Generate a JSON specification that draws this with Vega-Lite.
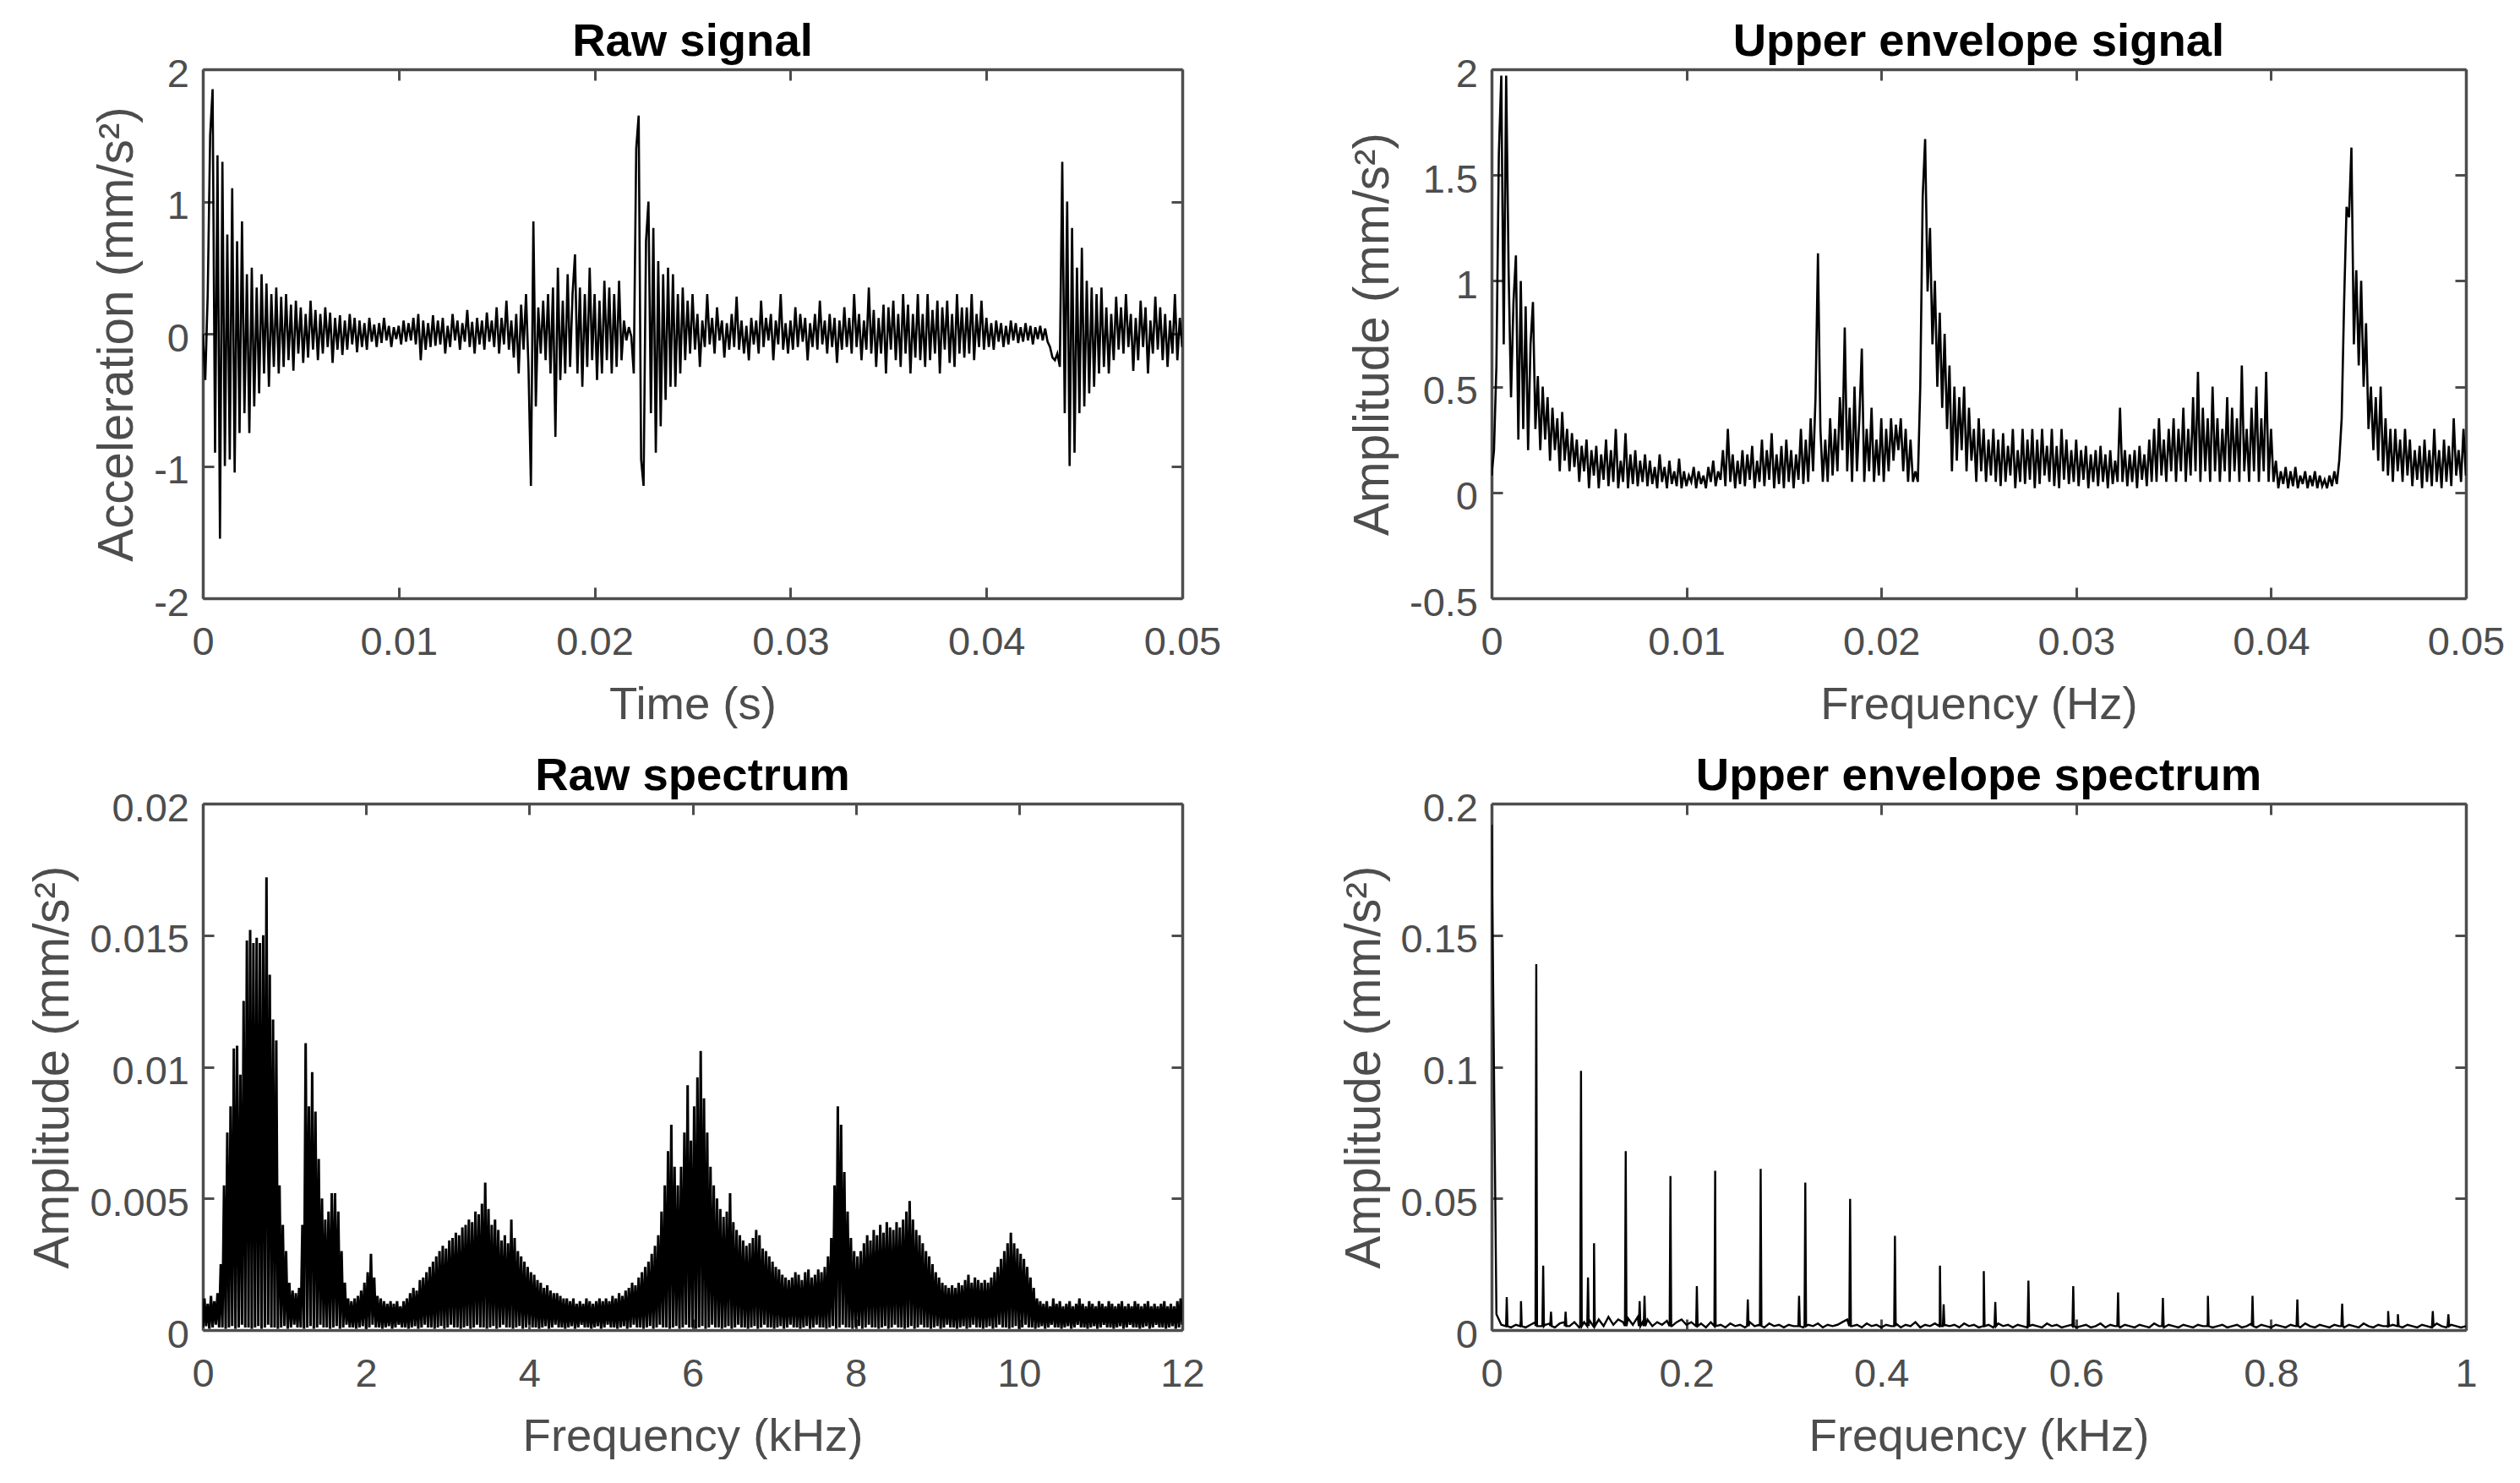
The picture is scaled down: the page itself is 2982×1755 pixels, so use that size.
{
"$schema":"https://vega.github.io/schema/vega-lite/v6.json",
"padding":{"left":33,"top":21,"right":0,"bottom":0},
"background":"white",
"config":{
"view":{"stroke":null},
"font":"Liberation Sans",
"axis":{"grid":false,"domainColor":"#4d4d4d","domainWidth":3.5,"tickColor":"#4d4d4d","tickWidth":3,"tickSize":-13,"labelFont":"Liberation Sans","labelFontSize":47,"labelColor":"#4d4d4d","labelFlush":false,"labelOverlap":false,"titleFont":"Liberation Sans","titleFontWeight":"normal","titleColor":"#4d4d4d","titleFontSize":54.5},
"axisBottom":{"labelPadding":42,"titlePadding":24},
"axisLeft":{"labelPadding":29.5,"labelOffset":6,"titlePadding":13,"titleFontSize":58.4},
"axisTop":{"labels":false},
"axisRight":{"labels":false},
"title":{"font":"Liberation Sans","fontSize":54.5,"fontWeight":"bold","color":"black","offset":-13,"frame":"group","anchor":"middle"},
"line":{"color":"black","strokeWidth":2.6}
},
"datasets":{
"raw":[
{"t":0,"v":0},{"t":0.000125,"v":-0.35},{"t":0.00025,"v":0.3},{"t":0.000375,"v":1.5},{"t":0.0005,"v":1.85},{"t":0.000625,"v":-0.9},{"t":0.00075,"v":1.35},{"t":0.000875,"v":-1.55},
{"t":0.001,"v":1.3},{"t":0.001125,"v":-1.0},{"t":0.00125,"v":0.75},{"t":0.001375,"v":-0.95},{"t":0.0015,"v":1.1},{"t":0.001625,"v":-1.05},{"t":0.00175,"v":0.7},{"t":0.001875,"v":-0.75},
{"t":0.002,"v":0.85},{"t":0.002125,"v":-0.6},{"t":0.00225,"v":0.45},{"t":0.002375,"v":-0.75},{"t":0.0025,"v":0.5},{"t":0.002625,"v":-0.55},{"t":0.00275,"v":0.35},{"t":0.002875,"v":-0.45},
{"t":0.003,"v":0.45},{"t":0.003125,"v":-0.3},{"t":0.00325,"v":0.38},{"t":0.003375,"v":-0.4},{"t":0.0035,"v":0.3},{"t":0.003625,"v":-0.25},{"t":0.00375,"v":0.35},{"t":0.003875,"v":-0.3},
{"t":0.004,"v":0.28},{"t":0.004125,"v":-0.25},{"t":0.00425,"v":0.3},{"t":0.004375,"v":-0.2},{"t":0.0045,"v":0.22},{"t":0.004625,"v":-0.28},{"t":0.00475,"v":0.25},{"t":0.004875,"v":-0.15},
{"t":0.005,"v":0.2},{"t":0.005125,"v":-0.22},{"t":0.00525,"v":0.15},{"t":0.005375,"v":-0.18},{"t":0.0055,"v":0.25},{"t":0.005625,"v":-0.12},{"t":0.00575,"v":0.18},{"t":0.005875,"v":-0.2},
{"t":0.006,"v":0.15},{"t":0.006125,"v":-0.15},{"t":0.00625,"v":0.2},{"t":0.006375,"v":-0.1},{"t":0.0065,"v":0.16},{"t":0.006625,"v":-0.22},{"t":0.00675,"v":0.12},{"t":0.006875,"v":-0.12},
{"t":0.007,"v":0.14},{"t":0.007125,"v":-0.16},{"t":0.00725,"v":0.1},{"t":0.007375,"v":-0.12},{"t":0.0075,"v":0.15},{"t":0.007625,"v":-0.08},{"t":0.00775,"v":0.12},{"t":0.007875,"v":-0.14},
{"t":0.008,"v":0.1},{"t":0.008125,"v":-0.1},{"t":0.00825,"v":0.08},{"t":0.008375,"v":-0.12},{"t":0.0085,"v":0.12},{"t":0.008625,"v":-0.06},{"t":0.00875,"v":0.07},{"t":0.008875,"v":-0.1},
{"t":0.009,"v":0.08},{"t":0.009125,"v":-0.07},{"t":0.00925,"v":0.12},{"t":0.009375,"v":-0.05},{"t":0.0095,"v":0.06},{"t":0.009625,"v":-0.1},{"t":0.00975,"v":0.05},{"t":0.009875,"v":-0.04},
{"t":0.01,"v":0.06},{"t":0.010125,"v":-0.08},{"t":0.01025,"v":0.1},{"t":0.010375,"v":-0.06},{"t":0.0105,"v":0.08},{"t":0.010625,"v":-0.05},{"t":0.01075,"v":0.12},{"t":0.010875,"v":-0.08},
{"t":0.011,"v":0.15},{"t":0.011125,"v":-0.2},{"t":0.01125,"v":0.1},{"t":0.011375,"v":-0.12},{"t":0.0115,"v":0.08},{"t":0.011625,"v":-0.1},{"t":0.01175,"v":0.14},{"t":0.011875,"v":-0.09},
{"t":0.012,"v":0.1},{"t":0.012125,"v":-0.08},{"t":0.01225,"v":0.12},{"t":0.012375,"v":-0.15},{"t":0.0125,"v":0.06},{"t":0.012625,"v":-0.1},{"t":0.01275,"v":0.15},{"t":0.012875,"v":-0.05},
{"t":0.013,"v":0.1},{"t":0.013125,"v":-0.12},{"t":0.01325,"v":0.08},{"t":0.013375,"v":-0.06},{"t":0.0135,"v":0.18},{"t":0.013625,"v":-0.1},{"t":0.01375,"v":0.09},{"t":0.013875,"v":-0.15},
{"t":0.014,"v":0.12},{"t":0.014125,"v":-0.08},{"t":0.01425,"v":0.1},{"t":0.014375,"v":-0.12},{"t":0.0145,"v":0.16},{"t":0.014625,"v":-0.06},{"t":0.01475,"v":0.1},{"t":0.014875,"v":-0.1},
{"t":0.015,"v":0.2},{"t":0.015125,"v":-0.15},{"t":0.01525,"v":0.12},{"t":0.015375,"v":-0.08},{"t":0.0155,"v":0.25},{"t":0.015625,"v":-0.12},{"t":0.01575,"v":0.1},{"t":0.015875,"v":-0.18},
{"t":0.016,"v":0.15},{"t":0.016125,"v":-0.3},{"t":0.01625,"v":0.22},{"t":0.016375,"v":-0.12},{"t":0.0165,"v":0.3},{"t":0.016625,"v":-0.25},{"t":0.01675,"v":-1.15},{"t":0.016875,"v":0.85},
{"t":0.017,"v":-0.55},{"t":0.017125,"v":0.2},{"t":0.01725,"v":-0.15},{"t":0.017375,"v":0.25},{"t":0.0175,"v":-0.2},{"t":0.017625,"v":0.3},{"t":0.01775,"v":-0.3},{"t":0.017875,"v":0.35},
{"t":0.018,"v":-0.78},{"t":0.018125,"v":0.5},{"t":0.01825,"v":-0.35},{"t":0.018375,"v":0.25},{"t":0.0185,"v":-0.3},{"t":0.018625,"v":0.45},{"t":0.01875,"v":-0.25},{"t":0.018875,"v":0.3},
{"t":0.019,"v":0.6},{"t":0.019125,"v":-0.3},{"t":0.01925,"v":0.35},{"t":0.019375,"v":-0.4},{"t":0.0195,"v":0.3},{"t":0.019625,"v":-0.25},{"t":0.01975,"v":0.5},{"t":0.019875,"v":-0.2},
{"t":0.02,"v":0.3},{"t":0.020125,"v":-0.35},{"t":0.02025,"v":0.25},{"t":0.020375,"v":-0.3},{"t":0.0205,"v":0.4},{"t":0.020625,"v":-0.2},{"t":0.02075,"v":0.35},{"t":0.020875,"v":-0.3},
{"t":0.021,"v":0.3},{"t":0.021125,"v":-0.25},{"t":0.02125,"v":0.4},{"t":0.021375,"v":-0.2},{"t":0.0215,"v":0.1},{"t":0.021625,"v":-0.05},{"t":0.02175,"v":0.05},{"t":0.021875,"v":-0.02},
{"t":0.022,"v":-0.3},{"t":0.022125,"v":1.4},{"t":0.02225,"v":1.65},{"t":0.022375,"v":-0.95},{"t":0.0225,"v":-1.15},{"t":0.022625,"v":0.7},{"t":0.02275,"v":1.0},{"t":0.022875,"v":-0.6},
{"t":0.023,"v":0.8},{"t":0.023125,"v":-0.9},{"t":0.02325,"v":0.55},{"t":0.023375,"v":-0.7},{"t":0.0235,"v":0.45},{"t":0.023625,"v":-0.5},{"t":0.02375,"v":0.5},{"t":0.023875,"v":-0.4},
{"t":0.024,"v":0.45},{"t":0.024125,"v":-0.4},{"t":0.02425,"v":0.3},{"t":0.024375,"v":-0.3},{"t":0.0245,"v":0.35},{"t":0.024625,"v":-0.2},{"t":0.02475,"v":0.25},{"t":0.024875,"v":-0.15},
{"t":0.025,"v":0.3},{"t":0.025125,"v":-0.12},{"t":0.02525,"v":0.15},{"t":0.025375,"v":-0.25},{"t":0.0255,"v":0.1},{"t":0.025625,"v":-0.1},{"t":0.02575,"v":0.3},{"t":0.025875,"v":-0.08},
{"t":0.026,"v":0.12},{"t":0.026125,"v":-0.15},{"t":0.02625,"v":0.2},{"t":0.026375,"v":-0.05},{"t":0.0265,"v":0.1},{"t":0.026625,"v":-0.18},{"t":0.02675,"v":0.08},{"t":0.026875,"v":-0.12},
{"t":0.027,"v":0.15},{"t":0.027125,"v":-0.1},{"t":0.02725,"v":0.28},{"t":0.027375,"v":-0.12},{"t":0.0275,"v":0.1},{"t":0.027625,"v":-0.15},{"t":0.02775,"v":0.06},{"t":0.027875,"v":-0.2},
{"t":0.028,"v":0.12},{"t":0.028125,"v":-0.08},{"t":0.02825,"v":0.1},{"t":0.028375,"v":-0.15},{"t":0.0285,"v":0.25},{"t":0.028625,"v":-0.1},{"t":0.02875,"v":0.12},{"t":0.028875,"v":-0.05},
{"t":0.029,"v":0.15},{"t":0.029125,"v":-0.2},{"t":0.02925,"v":0.1},{"t":0.029375,"v":-0.08},{"t":0.0295,"v":0.3},{"t":0.029625,"v":-0.12},{"t":0.02975,"v":0.08},{"t":0.029875,"v":-0.15},
{"t":0.03,"v":0.1},{"t":0.030125,"v":-0.12},{"t":0.03025,"v":0.2},{"t":0.030375,"v":-0.1},{"t":0.0305,"v":0.15},{"t":0.030625,"v":-0.06},{"t":0.03075,"v":0.12},{"t":0.030875,"v":-0.2},
{"t":0.031,"v":0.08},{"t":0.031125,"v":-0.1},{"t":0.03125,"v":0.15},{"t":0.031375,"v":-0.12},{"t":0.0315,"v":0.25},{"t":0.031625,"v":-0.08},{"t":0.03175,"v":0.1},{"t":0.031875,"v":-0.15},
{"t":0.032,"v":0.15},{"t":0.032125,"v":-0.1},{"t":0.03225,"v":0.12},{"t":0.032375,"v":-0.22},{"t":0.0325,"v":0.1},{"t":0.032625,"v":-0.12},{"t":0.03275,"v":0.2},{"t":0.032875,"v":-0.1},
{"t":0.033,"v":0.12},{"t":0.033125,"v":-0.15},{"t":0.03325,"v":0.3},{"t":0.033375,"v":-0.1},{"t":0.0335,"v":0.15},{"t":0.033625,"v":-0.2},{"t":0.03375,"v":0.1},{"t":0.033875,"v":-0.12},
{"t":0.034,"v":0.35},{"t":0.034125,"v":-0.15},{"t":0.03425,"v":0.18},{"t":0.034375,"v":-0.25},{"t":0.0345,"v":0.12},{"t":0.034625,"v":-0.15},{"t":0.03475,"v":0.22},{"t":0.034875,"v":-0.3},
{"t":0.035,"v":0.2},{"t":0.035125,"v":-0.12},{"t":0.03525,"v":0.25},{"t":0.035375,"v":-0.2},{"t":0.0355,"v":0.15},{"t":0.035625,"v":-0.25},{"t":0.03575,"v":0.3},{"t":0.035875,"v":-0.15},
{"t":0.036,"v":0.22},{"t":0.036125,"v":-0.3},{"t":0.03625,"v":0.15},{"t":0.036375,"v":-0.18},{"t":0.0365,"v":0.3},{"t":0.036625,"v":-0.2},{"t":0.03675,"v":0.15},{"t":0.036875,"v":-0.25},
{"t":0.037,"v":0.3},{"t":0.037125,"v":-0.2},{"t":0.03725,"v":0.18},{"t":0.037375,"v":-0.15},{"t":0.0375,"v":0.25},{"t":0.037625,"v":-0.3},{"t":0.03775,"v":0.2},{"t":0.037875,"v":-0.12},
{"t":0.038,"v":0.25},{"t":0.038125,"v":-0.22},{"t":0.03825,"v":0.15},{"t":0.038375,"v":-0.25},{"t":0.0385,"v":0.3},{"t":0.038625,"v":-0.15},{"t":0.03875,"v":0.2},{"t":0.038875,"v":-0.18},
{"t":0.039,"v":0.2},{"t":0.039125,"v":-0.15},{"t":0.03925,"v":0.3},{"t":0.039375,"v":-0.2},{"t":0.0395,"v":0.15},{"t":0.039625,"v":-0.1},{"t":0.03975,"v":0.25},{"t":0.039875,"v":-0.12},
{"t":0.04,"v":0.12},{"t":0.040125,"v":-0.1},{"t":0.04025,"v":0.08},{"t":0.040375,"v":-0.12},{"t":0.0405,"v":0.1},{"t":0.040625,"v":-0.06},{"t":0.04075,"v":0.08},{"t":0.040875,"v":-0.1},
{"t":0.041,"v":0.06},{"t":0.041125,"v":-0.08},{"t":0.04125,"v":0.1},{"t":0.041375,"v":-0.05},{"t":0.0415,"v":0.08},{"t":0.041625,"v":-0.07},{"t":0.04175,"v":0.05},{"t":0.041875,"v":-0.06},
{"t":0.042,"v":0.08},{"t":0.042125,"v":-0.05},{"t":0.04225,"v":0.06},{"t":0.042375,"v":-0.08},{"t":0.0425,"v":0.05},{"t":0.042625,"v":-0.04},{"t":0.04275,"v":0.06},{"t":0.042875,"v":-0.05},
{"t":0.043,"v":0.04},{"t":0.043125,"v":-0.06},{"t":0.04325,"v":-0.1},{"t":0.043375,"v":-0.18},{"t":0.0435,"v":-0.2},{"t":0.043625,"v":-0.15},{"t":0.04375,"v":-0.25},{"t":0.043875,"v":1.3},
{"t":0.044,"v":-0.6},{"t":0.044125,"v":1.0},{"t":0.04425,"v":-1.0},{"t":0.044375,"v":0.8},{"t":0.0445,"v":-0.9},{"t":0.044625,"v":0.5},{"t":0.04475,"v":-0.6},{"t":0.044875,"v":0.65},
{"t":0.045,"v":-0.55},{"t":0.045125,"v":0.4},{"t":0.04525,"v":-0.45},{"t":0.045375,"v":0.35},{"t":0.0455,"v":-0.4},{"t":0.045625,"v":0.3},{"t":0.04575,"v":-0.3},{"t":0.045875,"v":0.35},
{"t":0.046,"v":-0.25},{"t":0.046125,"v":0.2},{"t":0.04625,"v":-0.3},{"t":0.046375,"v":0.15},{"t":0.0465,"v":-0.2},{"t":0.046625,"v":0.28},{"t":0.04675,"v":-0.12},{"t":0.046875,"v":0.2},
{"t":0.047,"v":-0.15},{"t":0.047125,"v":0.3},{"t":0.04725,"v":-0.1},{"t":0.047375,"v":0.15},{"t":0.0475,"v":-0.28},{"t":0.047625,"v":0.12},{"t":0.04775,"v":-0.2},{"t":0.047875,"v":0.25},
{"t":0.048,"v":-0.1},{"t":0.048125,"v":0.2},{"t":0.04825,"v":-0.3},{"t":0.048375,"v":0.1},{"t":0.0485,"v":-0.15},{"t":0.048625,"v":0.28},{"t":0.04875,"v":-0.12},{"t":0.048875,"v":0.2},
{"t":0.049,"v":-0.2},{"t":0.049125,"v":0.15},{"t":0.04925,"v":-0.25},{"t":0.049375,"v":0.1},{"t":0.0495,"v":-0.15},{"t":0.049625,"v":0.3},{"t":0.04975,"v":-0.2},{"t":0.049875,"v":0.12},
{"t":0.05,"v":-0.1}
],
"env":[
{"t":0,"v":0.08},{"t":0.000125,"v":0.2},{"t":0.00025,"v":0.6},{"t":0.000375,"v":1.6},{"t":0.0005,"v":1.97},{"t":0.000625,"v":0.7},{"t":0.00075,"v":1.97},{"t":0.000875,"v":1.05},
{"t":0.001,"v":0.45},{"t":0.001125,"v":0.9},{"t":0.00125,"v":1.12},{"t":0.001375,"v":0.25},{"t":0.0015,"v":1.0},{"t":0.001625,"v":0.3},{"t":0.00175,"v":0.88},{"t":0.001875,"v":0.2},
{"t":0.002,"v":0.7},{"t":0.002125,"v":0.9},{"t":0.00225,"v":0.3},{"t":0.002375,"v":0.55},{"t":0.0025,"v":0.2},{"t":0.002625,"v":0.5},{"t":0.00275,"v":0.25},{"t":0.002875,"v":0.45},
{"t":0.003,"v":0.15},{"t":0.003125,"v":0.4},{"t":0.00325,"v":0.2},{"t":0.003375,"v":0.35},{"t":0.0035,"v":0.1},{"t":0.003625,"v":0.38},{"t":0.00375,"v":0.15},{"t":0.003875,"v":0.3},
{"t":0.004,"v":0.1},{"t":0.004125,"v":0.28},{"t":0.00425,"v":0.12},{"t":0.004375,"v":0.25},{"t":0.0045,"v":0.05},{"t":0.004625,"v":0.22},{"t":0.00475,"v":0.1},{"t":0.004875,"v":0.25},
{"t":0.005,"v":0.02},{"t":0.005125,"v":0.2},{"t":0.00525,"v":0.08},{"t":0.005375,"v":0.22},{"t":0.0055,"v":0.02},{"t":0.005625,"v":0.18},{"t":0.00575,"v":0.06},{"t":0.005875,"v":0.25},
{"t":0.006,"v":0.03},{"t":0.006125,"v":0.2},{"t":0.00625,"v":0.05},{"t":0.006375,"v":0.3},{"t":0.0065,"v":0.02},{"t":0.006625,"v":0.15},{"t":0.00675,"v":0.05},{"t":0.006875,"v":0.28},
{"t":0.007,"v":0.02},{"t":0.007125,"v":0.18},{"t":0.00725,"v":0.04},{"t":0.007375,"v":0.2},{"t":0.0075,"v":0.03},{"t":0.007625,"v":0.15},{"t":0.00775,"v":0.05},{"t":0.007875,"v":0.18},
{"t":0.008,"v":0.03},{"t":0.008125,"v":0.15},{"t":0.00825,"v":0.04},{"t":0.008375,"v":0.12},{"t":0.0085,"v":0.02},{"t":0.008625,"v":0.18},{"t":0.00875,"v":0.05},{"t":0.008875,"v":0.12},
{"t":0.009,"v":0.02},{"t":0.009125,"v":0.15},{"t":0.00925,"v":0.04},{"t":0.009375,"v":0.1},{"t":0.0095,"v":0.03},{"t":0.009625,"v":0.16},{"t":0.00975,"v":0.02},{"t":0.009875,"v":0.1},
{"t":0.01,"v":0.03},{"t":0.010125,"v":0.08},{"t":0.01025,"v":0.05},{"t":0.010375,"v":0.12},{"t":0.0105,"v":0.02},{"t":0.010625,"v":0.1},{"t":0.01075,"v":0.04},{"t":0.010875,"v":0.08},
{"t":0.011,"v":0.02},{"t":0.011125,"v":0.12},{"t":0.01125,"v":0.05},{"t":0.011375,"v":0.15},{"t":0.0115,"v":0.03},{"t":0.011625,"v":0.1},{"t":0.01175,"v":0.06},{"t":0.011875,"v":0.2},
{"t":0.012,"v":0.03},{"t":0.012125,"v":0.3},{"t":0.01225,"v":0.05},{"t":0.012375,"v":0.18},{"t":0.0125,"v":0.02},{"t":0.012625,"v":0.15},{"t":0.01275,"v":0.04},{"t":0.012875,"v":0.2},
{"t":0.013,"v":0.03},{"t":0.013125,"v":0.18},{"t":0.01325,"v":0.06},{"t":0.013375,"v":0.22},{"t":0.0135,"v":0.02},{"t":0.013625,"v":0.15},{"t":0.01375,"v":0.05},{"t":0.013875,"v":0.25},
{"t":0.014,"v":0.03},{"t":0.014125,"v":0.2},{"t":0.01425,"v":0.06},{"t":0.014375,"v":0.28},{"t":0.0145,"v":0.02},{"t":0.014625,"v":0.18},{"t":0.01475,"v":0.04},{"t":0.014875,"v":0.22},
{"t":0.015,"v":0.02},{"t":0.015125,"v":0.25},{"t":0.01525,"v":0.05},{"t":0.015375,"v":0.2},{"t":0.0155,"v":0.02},{"t":0.015625,"v":0.18},{"t":0.01575,"v":0.06},{"t":0.015875,"v":0.3},
{"t":0.016,"v":0.04},{"t":0.016125,"v":0.25},{"t":0.01625,"v":0.05},{"t":0.016375,"v":0.35},{"t":0.0165,"v":0.1},{"t":0.016625,"v":0.45},{"t":0.01675,"v":1.13},{"t":0.016875,"v":0.3},
{"t":0.017,"v":0.05},{"t":0.017125,"v":0.25},{"t":0.01725,"v":0.05},{"t":0.017375,"v":0.35},{"t":0.0175,"v":0.08},{"t":0.017625,"v":0.3},{"t":0.01775,"v":0.1},{"t":0.017875,"v":0.45},
{"t":0.018,"v":0.2},{"t":0.018125,"v":0.78},{"t":0.01825,"v":0.1},{"t":0.018375,"v":0.4},{"t":0.0185,"v":0.05},{"t":0.018625,"v":0.5},{"t":0.01875,"v":0.1},{"t":0.018875,"v":0.35},
{"t":0.019,"v":0.68},{"t":0.019125,"v":0.05},{"t":0.01925,"v":0.3},{"t":0.019375,"v":0.1},{"t":0.0195,"v":0.4},{"t":0.019625,"v":0.05},{"t":0.01975,"v":0.25},{"t":0.019875,"v":0.08},
{"t":0.02,"v":0.35},{"t":0.020125,"v":0.05},{"t":0.02025,"v":0.3},{"t":0.020375,"v":0.1},{"t":0.0205,"v":0.35},{"t":0.020625,"v":0.15},{"t":0.02075,"v":0.32},{"t":0.020875,"v":0.2},
{"t":0.021,"v":0.35},{"t":0.021125,"v":0.1},{"t":0.02125,"v":0.3},{"t":0.021375,"v":0.05},{"t":0.0215,"v":0.25},{"t":0.021625,"v":0.05},{"t":0.02175,"v":0.1},{"t":0.021875,"v":0.05},
{"t":0.022,"v":0.5},{"t":0.022125,"v":1.4},{"t":0.02225,"v":1.67},{"t":0.022375,"v":0.95},{"t":0.0225,"v":1.25},{"t":0.022625,"v":0.7},{"t":0.02275,"v":1.0},{"t":0.022875,"v":0.5},
{"t":0.023,"v":0.85},{"t":0.023125,"v":0.4},{"t":0.02325,"v":0.75},{"t":0.023375,"v":0.3},{"t":0.0235,"v":0.6},{"t":0.023625,"v":0.1},{"t":0.02375,"v":0.5},{"t":0.023875,"v":0.15},
{"t":0.024,"v":0.45},{"t":0.024125,"v":0.2},{"t":0.02425,"v":0.5},{"t":0.024375,"v":0.1},{"t":0.0245,"v":0.4},{"t":0.024625,"v":0.15},{"t":0.02475,"v":0.3},{"t":0.024875,"v":0.05},
{"t":0.025,"v":0.35},{"t":0.025125,"v":0.1},{"t":0.02525,"v":0.3},{"t":0.025375,"v":0.05},{"t":0.0255,"v":0.25},{"t":0.025625,"v":0.08},{"t":0.02575,"v":0.3},{"t":0.025875,"v":0.05},
{"t":0.026,"v":0.25},{"t":0.026125,"v":0.03},{"t":0.02625,"v":0.28},{"t":0.026375,"v":0.05},{"t":0.0265,"v":0.22},{"t":0.026625,"v":0.08},{"t":0.02675,"v":0.3},{"t":0.026875,"v":0.02},
{"t":0.027,"v":0.2},{"t":0.027125,"v":0.05},{"t":0.02725,"v":0.3},{"t":0.027375,"v":0.04},{"t":0.0275,"v":0.25},{"t":0.027625,"v":0.06},{"t":0.02775,"v":0.3},{"t":0.027875,"v":0.02},
{"t":0.028,"v":0.25},{"t":0.028125,"v":0.04},{"t":0.02825,"v":0.3},{"t":0.028375,"v":0.08},{"t":0.0285,"v":0.22},{"t":0.028625,"v":0.05},{"t":0.02875,"v":0.3},{"t":0.028875,"v":0.03},
{"t":0.029,"v":0.22},{"t":0.029125,"v":0.02},{"t":0.02925,"v":0.3},{"t":0.029375,"v":0.06},{"t":0.0295,"v":0.25},{"t":0.029625,"v":0.04},{"t":0.02975,"v":0.2},{"t":0.029875,"v":0.05},
{"t":0.03,"v":0.25},{"t":0.030125,"v":0.03},{"t":0.03025,"v":0.2},{"t":0.030375,"v":0.06},{"t":0.0305,"v":0.22},{"t":0.030625,"v":0.02},{"t":0.03075,"v":0.18},{"t":0.030875,"v":0.05},
{"t":0.031,"v":0.2},{"t":0.031125,"v":0.03},{"t":0.03125,"v":0.22},{"t":0.031375,"v":0.05},{"t":0.0315,"v":0.18},{"t":0.031625,"v":0.02},{"t":0.03175,"v":0.2},{"t":0.031875,"v":0.04},
{"t":0.032,"v":0.15},{"t":0.032125,"v":0.05},{"t":0.03225,"v":0.4},{"t":0.032375,"v":0.05},{"t":0.0325,"v":0.2},{"t":0.032625,"v":0.03},{"t":0.03275,"v":0.18},{"t":0.032875,"v":0.05},
{"t":0.033,"v":0.2},{"t":0.033125,"v":0.02},{"t":0.03325,"v":0.22},{"t":0.033375,"v":0.06},{"t":0.0335,"v":0.18},{"t":0.033625,"v":0.03},{"t":0.03375,"v":0.25},{"t":0.033875,"v":0.05},
{"t":0.034,"v":0.3},{"t":0.034125,"v":0.05},{"t":0.03425,"v":0.35},{"t":0.034375,"v":0.08},{"t":0.0345,"v":0.25},{"t":0.034625,"v":0.05},{"t":0.03475,"v":0.3},{"t":0.034875,"v":0.1},
{"t":0.035,"v":0.35},{"t":0.035125,"v":0.05},{"t":0.03525,"v":0.3},{"t":0.035375,"v":0.1},{"t":0.0355,"v":0.4},{"t":0.035625,"v":0.05},{"t":0.03575,"v":0.3},{"t":0.035875,"v":0.08},
{"t":0.036,"v":0.45},{"t":0.036125,"v":0.1},{"t":0.03625,"v":0.57},{"t":0.036375,"v":0.05},{"t":0.0365,"v":0.4},{"t":0.036625,"v":0.1},{"t":0.03675,"v":0.35},{"t":0.036875,"v":0.05},
{"t":0.037,"v":0.5},{"t":0.037125,"v":0.1},{"t":0.03725,"v":0.35},{"t":0.037375,"v":0.05},{"t":0.0375,"v":0.3},{"t":0.037625,"v":0.1},{"t":0.03775,"v":0.45},{"t":0.037875,"v":0.05},
{"t":0.038,"v":0.4},{"t":0.038125,"v":0.1},{"t":0.03825,"v":0.35},{"t":0.038375,"v":0.05},{"t":0.0385,"v":0.6},{"t":0.038625,"v":0.1},{"t":0.03875,"v":0.3},{"t":0.038875,"v":0.05},
{"t":0.039,"v":0.4},{"t":0.039125,"v":0.1},{"t":0.03925,"v":0.5},{"t":0.039375,"v":0.05},{"t":0.0395,"v":0.35},{"t":0.039625,"v":0.1},{"t":0.03975,"v":0.57},{"t":0.039875,"v":0.05},
{"t":0.04,"v":0.3},{"t":0.040125,"v":0.05},{"t":0.04025,"v":0.15},{"t":0.040375,"v":0.02},{"t":0.0405,"v":0.1},{"t":0.040625,"v":0.04},{"t":0.04075,"v":0.12},{"t":0.040875,"v":0.02},
{"t":0.041,"v":0.1},{"t":0.041125,"v":0.03},{"t":0.04125,"v":0.12},{"t":0.041375,"v":0.02},{"t":0.0415,"v":0.08},{"t":0.041625,"v":0.04},{"t":0.04175,"v":0.1},{"t":0.041875,"v":0.02},
{"t":0.042,"v":0.08},{"t":0.042125,"v":0.03},{"t":0.04225,"v":0.1},{"t":0.042375,"v":0.02},{"t":0.0425,"v":0.08},{"t":0.042625,"v":0.03},{"t":0.04275,"v":0.06},{"t":0.042875,"v":0.02},
{"t":0.043,"v":0.08},{"t":0.043125,"v":0.03},{"t":0.04325,"v":0.1},{"t":0.043375,"v":0.04},{"t":0.0435,"v":0.15},{"t":0.043625,"v":0.35},{"t":0.04375,"v":0.9},{"t":0.043875,"v":1.35},
{"t":0.044,"v":1.3},{"t":0.044125,"v":1.63},{"t":0.04425,"v":0.7},{"t":0.044375,"v":1.05},{"t":0.0445,"v":0.6},{"t":0.044625,"v":1.0},{"t":0.04475,"v":0.5},{"t":0.044875,"v":0.8},
{"t":0.045,"v":0.3},{"t":0.045125,"v":0.5},{"t":0.04525,"v":0.2},{"t":0.045375,"v":0.45},{"t":0.0455,"v":0.15},{"t":0.045625,"v":0.5},{"t":0.04575,"v":0.1},{"t":0.045875,"v":0.35},
{"t":0.046,"v":0.08},{"t":0.046125,"v":0.3},{"t":0.04625,"v":0.05},{"t":0.046375,"v":0.3},{"t":0.0465,"v":0.1},{"t":0.046625,"v":0.25},{"t":0.04675,"v":0.05},{"t":0.046875,"v":0.3},
{"t":0.047,"v":0.08},{"t":0.047125,"v":0.25},{"t":0.04725,"v":0.03},{"t":0.047375,"v":0.2},{"t":0.0475,"v":0.06},{"t":0.047625,"v":0.22},{"t":0.04775,"v":0.02},{"t":0.047875,"v":0.25},
{"t":0.048,"v":0.05},{"t":0.048125,"v":0.2},{"t":0.04825,"v":0.03},{"t":0.048375,"v":0.3},{"t":0.0485,"v":0.05},{"t":0.048625,"v":0.2},{"t":0.04875,"v":0.02},{"t":0.048875,"v":0.25},
{"t":0.049,"v":0.05},{"t":0.049125,"v":0.22},{"t":0.04925,"v":0.03},{"t":0.049375,"v":0.35},{"t":0.0495,"v":0.08},{"t":0.049625,"v":0.2},{"t":0.04975,"v":0.05},{"t":0.049875,"v":0.3},
{"t":0.05,"v":0.08}
],
"spec":[
{"f":0,"a":0.0001},{"f":0.02,"a":0.0012},{"f":0.04,"a":0.00015},{"f":0.06,"a":0.001},{"f":0.08,"a":0.00005},{"f":0.1,"a":0.0013},{"f":0.12,"a":0.0001},{"f":0.14,"a":0.0011},{"f":0.16,"a":0.0002},{"f":0.18,"a":0.0014},
{"f":0.2,"a":0.0001},{"f":0.22,"a":0.0025},{"f":0.24,"a":0.0001},{"f":0.26,"a":0.0055},{"f":0.28,"a":0.00005},{"f":0.3,"a":0.0075},{"f":0.32,"a":0.0001},{"f":0.34,"a":0.0085},{"f":0.36,"a":0.00015},{"f":0.38,"a":0.0107},
{"f":0.4,"a":0.00005},{"f":0.42,"a":0.0108},{"f":0.44,"a":0.0001},{"f":0.46,"a":0.0097},{"f":0.48,"a":0.0002},{"f":0.5,"a":0.0125},{"f":0.52,"a":0.0001},{"f":0.54,"a":0.0148},{"f":0.56,"a":0.0001},{"f":0.58,"a":0.0152},
{"f":0.6,"a":0.00005},{"f":0.62,"a":0.0147},{"f":0.64,"a":0.0001},{"f":0.66,"a":0.0149},{"f":0.68,"a":0.00015},{"f":0.7,"a":0.0147},{"f":0.72,"a":0.00005},{"f":0.74,"a":0.015},{"f":0.76,"a":0.0001},{"f":0.78,"a":0.0172},
{"f":0.8,"a":0.0002},{"f":0.82,"a":0.0135},{"f":0.84,"a":0.0001},{"f":0.86,"a":0.0118},{"f":0.88,"a":0.0001},{"f":0.9,"a":0.011},{"f":0.92,"a":0.00005},{"f":0.94,"a":0.0055},{"f":0.96,"a":0.0001},{"f":0.98,"a":0.004},
{"f":1.0,"a":0.00015},{"f":1.02,"a":0.003},{"f":1.04,"a":0.00005},{"f":1.06,"a":0.0018},{"f":1.08,"a":0.0001},{"f":1.1,"a":0.0015},{"f":1.12,"a":0.0002},{"f":1.14,"a":0.0014},{"f":1.16,"a":0.0001},{"f":1.18,"a":0.0016},
{"f":1.2,"a":0.0001},{"f":1.22,"a":0.004},{"f":1.24,"a":0.00005},{"f":1.26,"a":0.0109},{"f":1.28,"a":0.0001},{"f":1.3,"a":0.0085},{"f":1.32,"a":0.00015},{"f":1.34,"a":0.0098},{"f":1.36,"a":0.00005},{"f":1.38,"a":0.0083},
{"f":1.4,"a":0.0001},{"f":1.42,"a":0.0065},{"f":1.44,"a":0.0002},{"f":1.46,"a":0.005},{"f":1.48,"a":0.0001},{"f":1.5,"a":0.0042},{"f":1.52,"a":0.0001},{"f":1.54,"a":0.0045},{"f":1.56,"a":0.00005},{"f":1.58,"a":0.0052},
{"f":1.6,"a":0.0001},{"f":1.62,"a":0.0052},{"f":1.64,"a":0.00015},{"f":1.66,"a":0.0045},{"f":1.68,"a":0.00005},{"f":1.7,"a":0.003},{"f":1.72,"a":0.0001},{"f":1.74,"a":0.0018},{"f":1.76,"a":0.0002},{"f":1.78,"a":0.0012},
{"f":1.8,"a":0.0001},{"f":1.82,"a":0.0011},{"f":1.84,"a":0.0001},{"f":1.86,"a":0.0012},{"f":1.88,"a":0.00005},{"f":1.9,"a":0.0013},{"f":1.92,"a":0.0001},{"f":1.94,"a":0.0015},{"f":1.96,"a":0.00015},{"f":1.98,"a":0.0018},
{"f":2.0,"a":0.00005},{"f":2.02,"a":0.0022},{"f":2.04,"a":0.0001},{"f":2.06,"a":0.0029},{"f":2.08,"a":0.0002},{"f":2.1,"a":0.002},{"f":2.12,"a":0.0001},{"f":2.14,"a":0.0013},{"f":2.16,"a":0.0001},{"f":2.18,"a":0.0012},
{"f":2.2,"a":0.00005},{"f":2.22,"a":0.0011},{"f":2.24,"a":0.0001},{"f":2.26,"a":0.001},{"f":2.28,"a":0.00015},{"f":2.3,"a":0.0011},{"f":2.32,"a":0.00005},{"f":2.34,"a":0.001},{"f":2.36,"a":0.0001},{"f":2.38,"a":0.0011},
{"f":2.4,"a":0.0002},{"f":2.42,"a":0.0009},{"f":2.44,"a":0.0001},{"f":2.46,"a":0.0011},{"f":2.48,"a":0.0001},{"f":2.5,"a":0.0012},{"f":2.52,"a":0.00005},{"f":2.54,"a":0.0014},{"f":2.56,"a":0.0001},{"f":2.58,"a":0.0016},
{"f":2.6,"a":0.00015},{"f":2.62,"a":0.0015},{"f":2.64,"a":0.00005},{"f":2.66,"a":0.0019},{"f":2.68,"a":0.0001},{"f":2.7,"a":0.002},{"f":2.72,"a":0.0002},{"f":2.74,"a":0.0022},{"f":2.76,"a":0.0001},{"f":2.78,"a":0.0024},
{"f":2.8,"a":0.0001},{"f":2.82,"a":0.0026},{"f":2.84,"a":0.00005},{"f":2.86,"a":0.0028},{"f":2.88,"a":0.0001},{"f":2.9,"a":0.003},{"f":2.92,"a":0.00015},{"f":2.94,"a":0.0032},{"f":2.96,"a":0.00005},{"f":2.98,"a":0.0031},
{"f":3.0,"a":0.0001},{"f":3.02,"a":0.0034},{"f":3.04,"a":0.0002},{"f":3.06,"a":0.0035},{"f":3.08,"a":0.0001},{"f":3.1,"a":0.0037},{"f":3.12,"a":0.0001},{"f":3.14,"a":0.0036},{"f":3.16,"a":0.00005},{"f":3.18,"a":0.0039},
{"f":3.2,"a":0.0001},{"f":3.22,"a":0.004},{"f":3.24,"a":0.00015},{"f":3.26,"a":0.0042},{"f":3.28,"a":0.00005},{"f":3.3,"a":0.0041},{"f":3.32,"a":0.0001},{"f":3.34,"a":0.0045},{"f":3.36,"a":0.0002},{"f":3.38,"a":0.0044},
{"f":3.4,"a":0.0001},{"f":3.42,"a":0.0048},{"f":3.44,"a":0.0001},{"f":3.46,"a":0.0056},{"f":3.48,"a":0.00005},{"f":3.5,"a":0.0046},{"f":3.52,"a":0.0001},{"f":3.54,"a":0.004},{"f":3.56,"a":0.00015},{"f":3.58,"a":0.0042},
{"f":3.6,"a":0.00005},{"f":3.62,"a":0.0038},{"f":3.64,"a":0.0001},{"f":3.66,"a":0.0034},{"f":3.68,"a":0.0002},{"f":3.7,"a":0.0036},{"f":3.72,"a":0.0001},{"f":3.74,"a":0.0033},{"f":3.76,"a":0.0001},{"f":3.78,"a":0.0042},
{"f":3.8,"a":0.00005},{"f":3.82,"a":0.0035},{"f":3.84,"a":0.0001},{"f":3.86,"a":0.003},{"f":3.88,"a":0.00015},{"f":3.9,"a":0.0028},{"f":3.92,"a":0.00005},{"f":3.94,"a":0.0026},{"f":3.96,"a":0.0001},{"f":3.98,"a":0.0024},
{"f":4.0,"a":0.0002},{"f":4.02,"a":0.0022},{"f":4.04,"a":0.0001},{"f":4.06,"a":0.0021},{"f":4.08,"a":0.0001},{"f":4.1,"a":0.0019},{"f":4.12,"a":0.00005},{"f":4.14,"a":0.0018},{"f":4.16,"a":0.0001},{"f":4.18,"a":0.0016},
{"f":4.2,"a":0.00015},{"f":4.22,"a":0.0017},{"f":4.24,"a":0.00005},{"f":4.26,"a":0.0015},{"f":4.28,"a":0.0001},{"f":4.3,"a":0.0014},{"f":4.32,"a":0.0002},{"f":4.34,"a":0.0014},{"f":4.36,"a":0.0001},{"f":4.38,"a":0.0013},
{"f":4.4,"a":0.0001},{"f":4.42,"a":0.0012},{"f":4.44,"a":0.00005},{"f":4.46,"a":0.0012},{"f":4.48,"a":0.0001},{"f":4.5,"a":0.0011},{"f":4.52,"a":0.00015},{"f":4.54,"a":0.0012},{"f":4.56,"a":0.00005},{"f":4.58,"a":0.001},
{"f":4.6,"a":0.0001},{"f":4.62,"a":0.0011},{"f":4.64,"a":0.0002},{"f":4.66,"a":0.001},{"f":4.68,"a":0.0001},{"f":4.7,"a":0.0012},{"f":4.72,"a":0.0001},{"f":4.74,"a":0.0011},{"f":4.76,"a":0.00005},{"f":4.78,"a":0.001},
{"f":4.8,"a":0.0001},{"f":4.82,"a":0.0011},{"f":4.84,"a":0.00015},{"f":4.86,"a":0.0012},{"f":4.88,"a":0.00005},{"f":4.9,"a":0.0011},{"f":4.92,"a":0.0001},{"f":4.94,"a":0.0012},{"f":4.96,"a":0.0002},{"f":4.98,"a":0.0011},
{"f":5.0,"a":0.0001},{"f":5.02,"a":0.0013},{"f":5.04,"a":0.0001},{"f":5.06,"a":0.0012},{"f":5.08,"a":0.00005},{"f":5.1,"a":0.0014},{"f":5.12,"a":0.0001},{"f":5.14,"a":0.0013},{"f":5.16,"a":0.00015},{"f":5.18,"a":0.0015},
{"f":5.2,"a":0.00005},{"f":5.22,"a":0.0016},{"f":5.24,"a":0.0001},{"f":5.26,"a":0.0018},{"f":5.28,"a":0.0002},{"f":5.3,"a":0.0017},{"f":5.32,"a":0.0001},{"f":5.34,"a":0.002},{"f":5.36,"a":0.0001},{"f":5.38,"a":0.0022},
{"f":5.4,"a":0.00005},{"f":5.42,"a":0.0024},{"f":5.44,"a":0.0001},{"f":5.46,"a":0.0026},{"f":5.48,"a":0.00015},{"f":5.5,"a":0.0029},{"f":5.52,"a":0.00005},{"f":5.54,"a":0.0032},{"f":5.56,"a":0.0001},{"f":5.58,"a":0.0036},
{"f":5.6,"a":0.0002},{"f":5.62,"a":0.0045},{"f":5.64,"a":0.0001},{"f":5.66,"a":0.0055},{"f":5.68,"a":0.0001},{"f":5.7,"a":0.0068},{"f":5.72,"a":0.00005},{"f":5.74,"a":0.0078},{"f":5.76,"a":0.0001},{"f":5.78,"a":0.0062},
{"f":5.8,"a":0.00015},{"f":5.82,"a":0.0055},{"f":5.84,"a":0.00005},{"f":5.86,"a":0.0062},{"f":5.88,"a":0.0001},{"f":5.9,"a":0.0075},{"f":5.92,"a":0.0002},{"f":5.94,"a":0.0093},{"f":5.96,"a":0.0001},{"f":5.98,"a":0.0072},
{"f":6.0,"a":0.0001},{"f":6.02,"a":0.0085},{"f":6.04,"a":0.00005},{"f":6.06,"a":0.0096},{"f":6.08,"a":0.0001},{"f":6.1,"a":0.0106},{"f":6.12,"a":0.00015},{"f":6.14,"a":0.0088},{"f":6.16,"a":0.00005},{"f":6.18,"a":0.0075},
{"f":6.2,"a":0.0001},{"f":6.22,"a":0.0062},{"f":6.24,"a":0.0002},{"f":6.26,"a":0.0055},{"f":6.28,"a":0.0001},{"f":6.3,"a":0.005},{"f":6.32,"a":0.0001},{"f":6.34,"a":0.0046},{"f":6.36,"a":0.00005},{"f":6.38,"a":0.0043},
{"f":6.4,"a":0.0001},{"f":6.42,"a":0.0045},{"f":6.44,"a":0.00015},{"f":6.46,"a":0.0052},{"f":6.48,"a":0.00005},{"f":6.5,"a":0.0041},{"f":6.52,"a":0.0001},{"f":6.54,"a":0.0038},{"f":6.56,"a":0.0002},{"f":6.58,"a":0.0036},
{"f":6.6,"a":0.0001},{"f":6.62,"a":0.0034},{"f":6.64,"a":0.0001},{"f":6.66,"a":0.0032},{"f":6.68,"a":0.00005},{"f":6.7,"a":0.0033},{"f":6.72,"a":0.0001},{"f":6.74,"a":0.0035},{"f":6.76,"a":0.00015},{"f":6.78,"a":0.0038},
{"f":6.8,"a":0.00005},{"f":6.82,"a":0.0036},{"f":6.84,"a":0.0001},{"f":6.86,"a":0.0031},{"f":6.88,"a":0.0002},{"f":6.9,"a":0.003},{"f":6.92,"a":0.0001},{"f":6.94,"a":0.0028},{"f":6.96,"a":0.0001},{"f":6.98,"a":0.0026},
{"f":7.0,"a":0.00005},{"f":7.02,"a":0.0024},{"f":7.04,"a":0.0001},{"f":7.06,"a":0.0023},{"f":7.08,"a":0.00015},{"f":7.1,"a":0.0021},{"f":7.12,"a":0.00005},{"f":7.14,"a":0.002},{"f":7.16,"a":0.0001},{"f":7.18,"a":0.0019},
{"f":7.2,"a":0.0002},{"f":7.22,"a":0.002},{"f":7.24,"a":0.0001},{"f":7.26,"a":0.0022},{"f":7.28,"a":0.0001},{"f":7.3,"a":0.0021},{"f":7.32,"a":0.00005},{"f":7.34,"a":0.0019},{"f":7.36,"a":0.0001},{"f":7.38,"a":0.0022},
{"f":7.4,"a":0.00015},{"f":7.42,"a":0.0023},{"f":7.44,"a":0.00005},{"f":7.46,"a":0.002},{"f":7.48,"a":0.0001},{"f":7.5,"a":0.0021},{"f":7.52,"a":0.0002},{"f":7.54,"a":0.0023},{"f":7.56,"a":0.0001},{"f":7.58,"a":0.0022},
{"f":7.6,"a":0.0001},{"f":7.62,"a":0.0024},{"f":7.64,"a":0.00005},{"f":7.66,"a":0.0028},{"f":7.68,"a":0.0001},{"f":7.7,"a":0.0035},{"f":7.72,"a":0.00015},{"f":7.74,"a":0.0055},{"f":7.76,"a":0.00005},{"f":7.78,"a":0.0085},
{"f":7.8,"a":0.0001},{"f":7.82,"a":0.0078},{"f":7.84,"a":0.0002},{"f":7.86,"a":0.006},{"f":7.88,"a":0.0001},{"f":7.9,"a":0.0045},{"f":7.92,"a":0.0001},{"f":7.94,"a":0.0035},{"f":7.96,"a":0.00005},{"f":7.98,"a":0.003},
{"f":8.0,"a":0.0001},{"f":8.02,"a":0.0028},{"f":8.04,"a":0.00015},{"f":8.06,"a":0.003},{"f":8.08,"a":0.00005},{"f":8.1,"a":0.0033},{"f":8.12,"a":0.0001},{"f":8.14,"a":0.0036},{"f":8.16,"a":0.0002},{"f":8.18,"a":0.0034},
{"f":8.2,"a":0.0001},{"f":8.22,"a":0.0038},{"f":8.24,"a":0.0001},{"f":8.26,"a":0.0036},{"f":8.28,"a":0.00005},{"f":8.3,"a":0.004},{"f":8.32,"a":0.0001},{"f":8.34,"a":0.0037},{"f":8.36,"a":0.00015},{"f":8.38,"a":0.0041},
{"f":8.4,"a":0.00005},{"f":8.42,"a":0.0039},{"f":8.44,"a":0.0001},{"f":8.46,"a":0.0038},{"f":8.48,"a":0.0002},{"f":8.5,"a":0.0041},{"f":8.52,"a":0.0001},{"f":8.54,"a":0.0039},{"f":8.56,"a":0.0001},{"f":8.58,"a":0.0042},
{"f":8.6,"a":0.00005},{"f":8.62,"a":0.0045},{"f":8.64,"a":0.0001},{"f":8.66,"a":0.0049},{"f":8.68,"a":0.00015},{"f":8.7,"a":0.0042},{"f":8.72,"a":0.00005},{"f":8.74,"a":0.0038},{"f":8.76,"a":0.0001},{"f":8.78,"a":0.0036},
{"f":8.8,"a":0.0002},{"f":8.82,"a":0.0033},{"f":8.84,"a":0.0001},{"f":8.86,"a":0.003},{"f":8.88,"a":0.0001},{"f":8.9,"a":0.0028},{"f":8.92,"a":0.00005},{"f":8.94,"a":0.0025},{"f":8.96,"a":0.0001},{"f":8.98,"a":0.0022},
{"f":9.0,"a":0.00015},{"f":9.02,"a":0.002},{"f":9.04,"a":0.00005},{"f":9.06,"a":0.0018},{"f":9.08,"a":0.0001},{"f":9.1,"a":0.0017},{"f":9.12,"a":0.0002},{"f":9.14,"a":0.0016},{"f":9.16,"a":0.0001},{"f":9.18,"a":0.0017},
{"f":9.2,"a":0.0001},{"f":9.22,"a":0.0016},{"f":9.24,"a":0.00005},{"f":9.26,"a":0.0018},{"f":9.28,"a":0.0001},{"f":9.3,"a":0.0017},{"f":9.32,"a":0.00015},{"f":9.34,"a":0.0019},{"f":9.36,"a":0.00005},{"f":9.38,"a":0.0021},
{"f":9.4,"a":0.0001},{"f":9.42,"a":0.0018},{"f":9.44,"a":0.0002},{"f":9.46,"a":0.002},{"f":9.48,"a":0.0001},{"f":9.5,"a":0.0019},{"f":9.52,"a":0.0001},{"f":9.54,"a":0.0018},{"f":9.56,"a":0.00005},{"f":9.58,"a":0.0019},
{"f":9.6,"a":0.0001},{"f":9.62,"a":0.0018},{"f":9.64,"a":0.00015},{"f":9.66,"a":0.002},{"f":9.68,"a":0.00005},{"f":9.7,"a":0.0022},{"f":9.72,"a":0.0001},{"f":9.74,"a":0.0024},{"f":9.76,"a":0.0002},{"f":9.78,"a":0.0027},
{"f":9.8,"a":0.0001},{"f":9.82,"a":0.003},{"f":9.84,"a":0.0001},{"f":9.86,"a":0.0033},{"f":9.88,"a":0.00005},{"f":9.9,"a":0.0037},{"f":9.92,"a":0.0001},{"f":9.94,"a":0.0033},{"f":9.96,"a":0.00015},{"f":9.98,"a":0.0031},
{"f":10.0,"a":0.00005},{"f":10.02,"a":0.0029},{"f":10.04,"a":0.0001},{"f":10.06,"a":0.0027},{"f":10.08,"a":0.0002},{"f":10.1,"a":0.0024},{"f":10.12,"a":0.0001},{"f":10.14,"a":0.002},{"f":10.16,"a":0.0001},{"f":10.18,"a":0.0016},
{"f":10.2,"a":0.00005},{"f":10.22,"a":0.0012},{"f":10.24,"a":0.0001},{"f":10.26,"a":0.0011},{"f":10.28,"a":0.00015},{"f":10.3,"a":0.001},{"f":10.32,"a":0.00005},{"f":10.34,"a":0.0011},{"f":10.36,"a":0.0001},{"f":10.38,"a":0.0009},
{"f":10.4,"a":0.0002},{"f":10.42,"a":0.0012},{"f":10.44,"a":0.0001},{"f":10.46,"a":0.001},{"f":10.48,"a":0.0001},{"f":10.5,"a":0.0011},{"f":10.52,"a":0.00005},{"f":10.54,"a":0.0009},{"f":10.56,"a":0.0001},{"f":10.58,"a":0.001},
{"f":10.6,"a":0.00015},{"f":10.62,"a":0.0011},{"f":10.64,"a":0.00005},{"f":10.66,"a":0.0009},{"f":10.68,"a":0.0001},{"f":10.7,"a":0.001},{"f":10.72,"a":0.0002},{"f":10.74,"a":0.0012},{"f":10.76,"a":0.0001},{"f":10.78,"a":0.001},
{"f":10.8,"a":0.0001},{"f":10.82,"a":0.0009},{"f":10.84,"a":0.00005},{"f":10.86,"a":0.0011},{"f":10.88,"a":0.0001},{"f":10.9,"a":0.001},{"f":10.92,"a":0.00015},{"f":10.94,"a":0.0009},{"f":10.96,"a":0.00005},{"f":10.98,"a":0.0011},
{"f":11.0,"a":0.0001},{"f":11.02,"a":0.001},{"f":11.04,"a":0.0002},{"f":11.06,"a":0.0009},{"f":11.08,"a":0.0001},{"f":11.1,"a":0.0011},{"f":11.12,"a":0.0001},{"f":11.14,"a":0.001},{"f":11.16,"a":0.00005},{"f":11.18,"a":0.0009},
{"f":11.2,"a":0.0001},{"f":11.22,"a":0.001},{"f":11.24,"a":0.00015},{"f":11.26,"a":0.0011},{"f":11.28,"a":0.00005},{"f":11.3,"a":0.0009},{"f":11.32,"a":0.0001},{"f":11.34,"a":0.001},{"f":11.36,"a":0.0002},{"f":11.38,"a":0.0009},
{"f":11.4,"a":0.0001},{"f":11.42,"a":0.0011},{"f":11.44,"a":0.0001},{"f":11.46,"a":0.001},{"f":11.48,"a":0.00005},{"f":11.5,"a":0.0009},{"f":11.52,"a":0.0001},{"f":11.54,"a":0.001},{"f":11.56,"a":0.00015},{"f":11.58,"a":0.0011},
{"f":11.6,"a":0.00005},{"f":11.62,"a":0.0009},{"f":11.64,"a":0.0001},{"f":11.66,"a":0.001},{"f":11.68,"a":0.0002},{"f":11.7,"a":0.0009},{"f":11.72,"a":0.0001},{"f":11.74,"a":0.001},{"f":11.76,"a":0.0001},{"f":11.78,"a":0.0011},
{"f":11.8,"a":0.00005},{"f":11.82,"a":0.0009},{"f":11.84,"a":0.0001},{"f":11.86,"a":0.001},{"f":11.88,"a":0.00015},{"f":11.9,"a":0.0009},{"f":11.92,"a":0.00005},{"f":11.94,"a":0.0011},{"f":11.96,"a":0.0001},{"f":11.98,"a":0.0012},
{"f":12.0,"a":0.0002}
],
"envs":[
{"f":0,"a":0.192},{"f":0.005,"a":0.006},{"f":0.01,"a":0.002},{"f":0.015,"a":0.003},{"f":0.02,"a":0.001},{"f":0.025,"a":0.002},{"f":0.03,"a":0.0035},{"f":0.035,"a":0.001},{"f":0.04,"a":0.002},{"f":0.045,"a":0.003},{"f":0.05,"a":0.0015},
{"f":0.055,"a":0.002},{"f":0.06,"a":0.0025},{"f":0.065,"a":0.001},{"f":0.07,"a":0.0025},{"f":0.075,"a":0.003},{"f":0.08,"a":0.0015},{"f":0.085,"a":0.003},{"f":0.09,"a":0.001},{"f":0.095,"a":0.003},{"f":0.1,"a":0.004},
{"f":0.105,"a":0.002},{"f":0.11,"a":0.004},{"f":0.115,"a":0.0015},{"f":0.12,"a":0.005},{"f":0.125,"a":0.002},{"f":0.13,"a":0.004},{"f":0.135,"a":0.003},{"f":0.14,"a":0.0045},{"f":0.145,"a":0.002},{"f":0.15,"a":0.005},
{"f":0.155,"a":0.003},{"f":0.16,"a":0.004},{"f":0.165,"a":0.0015},{"f":0.17,"a":0.003},{"f":0.175,"a":0.002},{"f":0.18,"a":0.0035},{"f":0.185,"a":0.0015},{"f":0.19,"a":0.003},{"f":0.195,"a":0.004},{"f":0.2,"a":0.002},
{"f":0.205,"a":0.003},{"f":0.21,"a":0.0015},{"f":0.215,"a":0.0025},{"f":0.22,"a":0.001},{"f":0.225,"a":0.003},{"f":0.23,"a":0.0015},{"f":0.235,"a":0.002},{"f":0.24,"a":0.001},{"f":0.245,"a":0.0025},{"f":0.25,"a":0.0015},
{"f":0.255,"a":0.002},{"f":0.26,"a":0.001},{"f":0.265,"a":0.003},{"f":0.27,"a":0.0015},{"f":0.275,"a":0.002},{"f":0.28,"a":0.001},{"f":0.285,"a":0.0025},{"f":0.29,"a":0.0015},{"f":0.295,"a":0.002},{"f":0.3,"a":0.001},
{"f":0.305,"a":0.002},{"f":0.31,"a":0.0015},{"f":0.315,"a":0.003},{"f":0.32,"a":0.001},{"f":0.325,"a":0.002},{"f":0.33,"a":0.0015},{"f":0.335,"a":0.0025},{"f":0.34,"a":0.001},{"f":0.345,"a":0.002},{"f":0.35,"a":0.0015},
{"f":0.355,"a":0.002},{"f":0.36,"a":0.003},{"f":0.365,"a":0.004},{"f":0.37,"a":0.0015},{"f":0.375,"a":0.002},{"f":0.38,"a":0.001},{"f":0.385,"a":0.0025},{"f":0.39,"a":0.0015},{"f":0.395,"a":0.002},{"f":0.4,"a":0.001},
{"f":0.405,"a":0.002},{"f":0.41,"a":0.0015},{"f":0.415,"a":0.0025},{"f":0.42,"a":0.001},{"f":0.425,"a":0.002},{"f":0.43,"a":0.0015},{"f":0.435,"a":0.003},{"f":0.44,"a":0.001},{"f":0.445,"a":0.002},{"f":0.45,"a":0.0015},
{"f":0.455,"a":0.0025},{"f":0.46,"a":0.003},{"f":0.465,"a":0.002},{"f":0.47,"a":0.0015},{"f":0.475,"a":0.002},{"f":0.48,"a":0.001},{"f":0.485,"a":0.0025},{"f":0.49,"a":0.0015},{"f":0.495,"a":0.002},{"f":0.5,"a":0.001},
{"f":0.505,"a":0.0015},{"f":0.51,"a":0.002},{"f":0.515,"a":0.001},{"f":0.52,"a":0.0025},{"f":0.525,"a":0.0015},{"f":0.53,"a":0.002},{"f":0.535,"a":0.001},{"f":0.54,"a":0.002},{"f":0.545,"a":0.0015},{"f":0.55,"a":0.001},
{"f":0.555,"a":0.002},{"f":0.56,"a":0.0015},{"f":0.565,"a":0.001},{"f":0.57,"a":0.0025},{"f":0.575,"a":0.0015},{"f":0.58,"a":0.002},{"f":0.585,"a":0.001},{"f":0.59,"a":0.0015},{"f":0.595,"a":0.002},{"f":0.6,"a":0.001},
{"f":0.605,"a":0.0015},{"f":0.61,"a":0.002},{"f":0.615,"a":0.001},{"f":0.62,"a":0.0015},{"f":0.625,"a":0.0025},{"f":0.63,"a":0.001},{"f":0.635,"a":0.002},{"f":0.64,"a":0.0015},{"f":0.645,"a":0.001},{"f":0.65,"a":0.002},
{"f":0.655,"a":0.0015},{"f":0.66,"a":0.001},{"f":0.665,"a":0.002},{"f":0.67,"a":0.0015},{"f":0.675,"a":0.001},{"f":0.68,"a":0.0025},{"f":0.685,"a":0.0015},{"f":0.69,"a":0.001},{"f":0.695,"a":0.002},{"f":0.7,"a":0.0015},
{"f":0.705,"a":0.001},{"f":0.71,"a":0.002},{"f":0.715,"a":0.0015},{"f":0.72,"a":0.001},{"f":0.725,"a":0.002},{"f":0.73,"a":0.0015},{"f":0.735,"a":0.0025},{"f":0.74,"a":0.001},{"f":0.745,"a":0.0015},{"f":0.75,"a":0.002},
{"f":0.755,"a":0.001},{"f":0.76,"a":0.0015},{"f":0.765,"a":0.002},{"f":0.77,"a":0.001},{"f":0.775,"a":0.0015},{"f":0.78,"a":0.0025},{"f":0.785,"a":0.001},{"f":0.79,"a":0.002},{"f":0.795,"a":0.0015},{"f":0.8,"a":0.001},
{"f":0.805,"a":0.002},{"f":0.81,"a":0.0015},{"f":0.815,"a":0.001},{"f":0.82,"a":0.002},{"f":0.825,"a":0.0015},{"f":0.83,"a":0.001},{"f":0.835,"a":0.0025},{"f":0.84,"a":0.0015},{"f":0.845,"a":0.001},{"f":0.85,"a":0.002},
{"f":0.855,"a":0.0015},{"f":0.86,"a":0.001},{"f":0.865,"a":0.002},{"f":0.87,"a":0.0015},{"f":0.875,"a":0.001},{"f":0.88,"a":0.002},{"f":0.885,"a":0.0015},{"f":0.89,"a":0.001},{"f":0.895,"a":0.0025},{"f":0.9,"a":0.0015},
{"f":0.905,"a":0.001},{"f":0.91,"a":0.002},{"f":0.915,"a":0.0015},{"f":0.92,"a":0.001},{"f":0.925,"a":0.002},{"f":0.93,"a":0.0015},{"f":0.935,"a":0.001},{"f":0.94,"a":0.002},{"f":0.945,"a":0.0015},{"f":0.95,"a":0.001},
{"f":0.955,"a":0.002},{"f":0.96,"a":0.0015},{"f":0.965,"a":0.001},{"f":0.97,"a":0.0025},{"f":0.975,"a":0.0015},{"f":0.98,"a":0.001},{"f":0.985,"a":0.002},{"f":0.99,"a":0.0015},{"f":0.995,"a":0.001},{"f":1.0,"a":0.0015},
{"f":0.0148,"a":0.0015},{"f":0.0156,"a":0.0125},{"f":0.0164,"a":0.0015},
{"f":0.0294,"a":0.0015},{"f":0.0302,"a":0.011},{"f":0.031,"a":0.0015},
{"f":0.0451,"a":0.0015},{"f":0.0459,"a":0.139},{"f":0.0467,"a":0.0015},
{"f":0.0522,"a":0.0015},{"f":0.053,"a":0.0245},{"f":0.0538,"a":0.0015},
{"f":0.0602,"a":0.0015},{"f":0.061,"a":0.007},{"f":0.0618,"a":0.0015},
{"f":0.0752,"a":0.0015},{"f":0.076,"a":0.007},{"f":0.0768,"a":0.0015},
{"f":0.091,"a":0.0015},{"f":0.0918,"a":0.0985},{"f":0.0926,"a":0.0015},
{"f":0.0982,"a":0.0015},{"f":0.099,"a":0.02},{"f":0.0998,"a":0.0015},
{"f":0.1044,"a":0.0015},{"f":0.1052,"a":0.033},{"f":0.106,"a":0.0015},
{"f":0.1369,"a":0.0015},{"f":0.1377,"a":0.068},{"f":0.1385,"a":0.0015},
{"f":0.1512,"a":0.0015},{"f":0.152,"a":0.011},{"f":0.1528,"a":0.0015},
{"f":0.1562,"a":0.0015},{"f":0.157,"a":0.013},{"f":0.1578,"a":0.0015},
{"f":0.1828,"a":0.0015},{"f":0.1836,"a":0.0585},{"f":0.1844,"a":0.0015},
{"f":0.2099,"a":0.0015},{"f":0.2107,"a":0.0167},{"f":0.2115,"a":0.0015},
{"f":0.2287,"a":0.0015},{"f":0.2295,"a":0.0605},{"f":0.2303,"a":0.0015},
{"f":0.2622,"a":0.0015},{"f":0.263,"a":0.0116},{"f":0.2638,"a":0.0015},
{"f":0.2754,"a":0.0015},{"f":0.2762,"a":0.0612},{"f":0.277,"a":0.0015},
{"f":0.3148,"a":0.0015},{"f":0.3156,"a":0.013},{"f":0.3164,"a":0.0015},
{"f":0.3212,"a":0.0015},{"f":0.322,"a":0.056},{"f":0.3228,"a":0.0015},
{"f":0.3672,"a":0.0015},{"f":0.368,"a":0.0498},{"f":0.3688,"a":0.0015},
{"f":0.4132,"a":0.0015},{"f":0.414,"a":0.0358},{"f":0.4148,"a":0.0015},
{"f":0.4594,"a":0.0015},{"f":0.4602,"a":0.0245},{"f":0.461,"a":0.0015},
{"f":0.4632,"a":0.0015},{"f":0.464,"a":0.0098},{"f":0.4648,"a":0.0015},
{"f":0.5044,"a":0.0015},{"f":0.5052,"a":0.0224},{"f":0.506,"a":0.0015},
{"f":0.5162,"a":0.0015},{"f":0.517,"a":0.0107},{"f":0.5178,"a":0.0015},
{"f":0.5502,"a":0.0015},{"f":0.551,"a":0.0188},{"f":0.5518,"a":0.0015},
{"f":0.5962,"a":0.0015},{"f":0.597,"a":0.0167},{"f":0.5978,"a":0.0015},
{"f":0.6422,"a":0.0015},{"f":0.643,"a":0.0143},{"f":0.6438,"a":0.0015},
{"f":0.6882,"a":0.0015},{"f":0.689,"a":0.0122},{"f":0.6898,"a":0.0015},
{"f":0.7344,"a":0.0015},{"f":0.7352,"a":0.013},{"f":0.736,"a":0.0015},
{"f":0.7802,"a":0.0015},{"f":0.781,"a":0.013},{"f":0.7818,"a":0.0015},
{"f":0.8262,"a":0.0015},{"f":0.827,"a":0.0116},{"f":0.8278,"a":0.0015},
{"f":0.8722,"a":0.0015},{"f":0.873,"a":0.01},{"f":0.8738,"a":0.0015},
{"f":0.9194,"a":0.0015},{"f":0.9202,"a":0.0072},{"f":0.921,"a":0.0015},
{"f":0.9294,"a":0.0015},{"f":0.9302,"a":0.006},{"f":0.931,"a":0.0015},
{"f":0.9652,"a":0.0015},{"f":0.966,"a":0.0072},{"f":0.9668,"a":0.0015},
{"f":0.9812,"a":0.0015},{"f":0.982,"a":0.006},{"f":0.9828,"a":0.0015}
]
},
"columns":2,
"spacing":{"row":243,"column":366},
"bounds":"flush",
"concat":[
{"width":1159,"height":626,"title":{"text":"Raw signal"},"data":{"name":"raw"},
"layer":[
{"mark":{"type":"line","clip":true},"encoding":{
"x":{"field":"t","type":"quantitative","scale":{"domain":[0,0.05],"nice":false,"zero":false},"axis":{"title":"Time (s)","values":[0,0.01,0.02,0.03,0.04,0.05],"labelExpr":"toString(datum.value)"}},
"y":{"field":"v","type":"quantitative","scale":{"domain":[-2,2],"nice":false,"zero":false},"axis":{"title":"Acceleration (mm/s²)","values":[-2,-1,0,1,2],"labelExpr":"toString(datum.value)"}}}},
{"mark":{"type":"line","opacity":0},"encoding":{
"x":{"field":"t","type":"quantitative","axis":{"orient":"top","title":null,"values":[0,0.01,0.02,0.03,0.04,0.05]}},
"y":{"field":"v","type":"quantitative","axis":{"orient":"right","title":null,"values":[-2,-1,0,1,2]}}}}
],
"resolve":{"axis":{"x":"independent","y":"independent"}}},
{"width":1153,"height":626,"title":{"text":"Upper envelope signal"},"data":{"name":"env"},
"layer":[
{"mark":{"type":"line","clip":true},"encoding":{
"x":{"field":"t","type":"quantitative","scale":{"domain":[0,0.05],"nice":false,"zero":false},"axis":{"title":"Frequency (Hz)","values":[0,0.01,0.02,0.03,0.04,0.05],"labelExpr":"toString(datum.value)"}},
"y":{"field":"v","type":"quantitative","scale":{"domain":[-0.5,2],"nice":false,"zero":false},"axis":{"title":"Amplitude (mm/s²)","values":[-0.5,0,0.5,1,1.5,2],"labelExpr":"toString(datum.value)"}}}},
{"mark":{"type":"line","opacity":0},"encoding":{
"x":{"field":"t","type":"quantitative","axis":{"orient":"top","title":null,"values":[0,0.01,0.02,0.03,0.04,0.05]}},
"y":{"field":"v","type":"quantitative","axis":{"orient":"right","title":null,"values":[-0.5,0,0.5,1,1.5,2]}}}}
],
"resolve":{"axis":{"x":"independent","y":"independent"}}},
{"width":1159,"height":623,"title":{"text":"Raw spectrum"},"data":{"name":"spec"},
"layer":[
{"mark":{"type":"line","clip":true,"strokeWidth":3},"encoding":{
"x":{"field":"f","type":"quantitative","scale":{"domain":[0,12],"nice":false,"zero":false},"axis":{"title":"Frequency (kHz)","values":[0,2,4,6,8,10,12],"labelExpr":"toString(datum.value)"}},
"y":{"field":"a","type":"quantitative","scale":{"domain":[0,0.02],"nice":false,"zero":false},"axis":{"title":"Amplitude (mm/s²)","values":[0,0.005,0.01,0.015,0.02],"labelExpr":"toString(datum.value)"}}}},
{"mark":{"type":"line","opacity":0},"encoding":{
"x":{"field":"f","type":"quantitative","axis":{"orient":"top","title":null,"values":[0,2,4,6,8,10,12]}},
"y":{"field":"a","type":"quantitative","axis":{"orient":"right","title":null,"values":[0,0.005,0.01,0.015,0.02]}}}}
],
"resolve":{"axis":{"x":"independent","y":"independent"}}},
{"width":1153,"height":623,"title":{"text":"Upper envelope spectrum"},"data":{"name":"envs"},
"layer":[
{"mark":{"type":"line","clip":true,"strokeWidth":2.4},"encoding":{
"x":{"field":"f","type":"quantitative","scale":{"domain":[0,1],"nice":false,"zero":false},"axis":{"title":"Frequency (kHz)","values":[0,0.2,0.4,0.6,0.8,1],"labelExpr":"toString(datum.value)"}},
"y":{"field":"a","type":"quantitative","scale":{"domain":[0,0.2],"nice":false,"zero":false},"axis":{"title":"Amplitude (mm/s²)","values":[0,0.05,0.1,0.15,0.2],"labelExpr":"toString(datum.value)"}}}},
{"mark":{"type":"line","opacity":0},"encoding":{
"x":{"field":"f","type":"quantitative","axis":{"orient":"top","title":null,"values":[0,0.2,0.4,0.6,0.8,1]}},
"y":{"field":"a","type":"quantitative","axis":{"orient":"right","title":null,"values":[0,0.05,0.1,0.15,0.2]}}}}
],
"resolve":{"axis":{"x":"independent","y":"independent"}}}
]
}
